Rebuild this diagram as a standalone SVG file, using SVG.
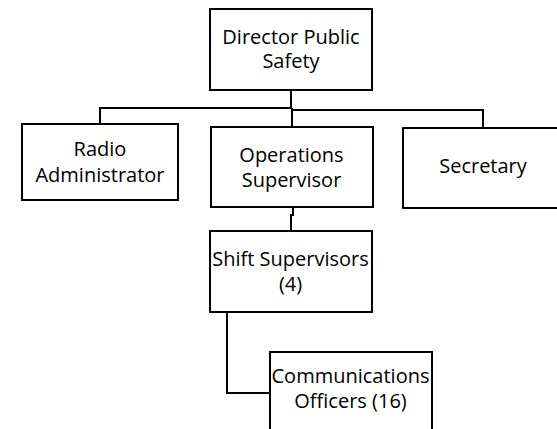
<svg xmlns="http://www.w3.org/2000/svg" width="557" height="429" viewBox="0 0 557 429">
<style>
.box{fill:#fff;stroke:#000;stroke-width:2}
.con{fill:none;stroke:#000;stroke-width:2}
text{font-family:"Open Sans","Noto Sans",sans-serif;font-size:20px;fill:#000;text-anchor:middle}
</style>
<rect width="557" height="429" fill="#fff"/>
<g id="connectors">
<path class="con" d="M291 90 V108 H100 V124"/>
<path class="con" d="M292 108 V127"/>
<path class="con" d="M292 110 H483 V128"/>
<path class="con" d="M293 207 V215 H291 V231"/>
<path class="con" d="M227 312 V393 H270"/>
</g>
<g id="director">
<rect class="box" x="210" y="9" width="162" height="81"/>
<text x="291" y="44">Director Public</text>
<text x="291" y="68">Safety</text>
</g>
<g id="radio">
<rect class="box" x="22" y="124" width="156" height="76"/>
<text x="100" y="155.5">Radio</text>
<text x="100" y="182">Administrator</text>
</g>
<g id="operations">
<rect class="box" x="211" y="127" width="162" height="80"/>
<text x="291.5" y="162">Operations</text>
<text x="291.5" y="187">Supervisor</text>
</g>
<g id="secretary">
<rect class="box" x="403" y="128" width="160" height="80"/>
<text x="483" y="173">Secretary</text>
</g>
<g id="shift">
<rect class="box" x="210" y="231" width="162" height="81"/>
<text x="290.5" y="266">Shift Supervisors</text>
<text x="290.5" y="291">(4)</text>
</g>
<g id="communications">
<rect class="box" x="270" y="352" width="162" height="90"/>
<text x="350.5" y="383">Communications</text>
<text x="350.5" y="408">Officers (16)</text>
</g>
</svg>
